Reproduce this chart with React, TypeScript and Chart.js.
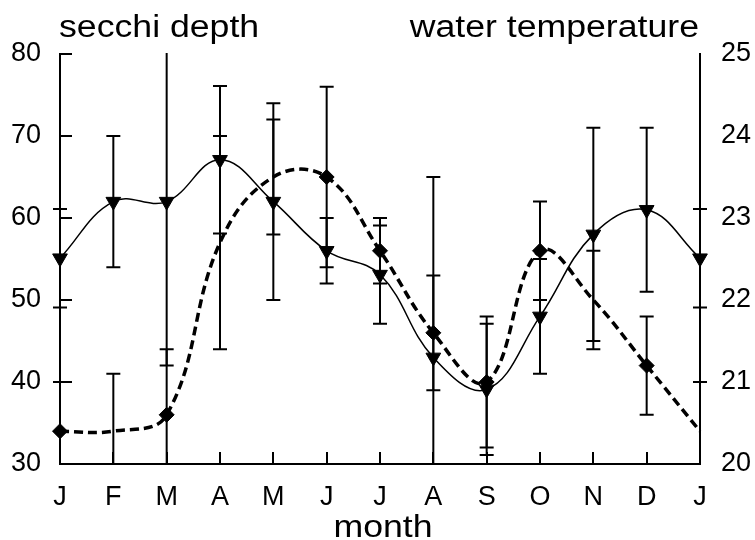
import React, { useEffect, useRef } from "react";
import { Chart, registerables } from "chart.js";

Chart.register(...registerables);

// ---- data ----
const months = ["J", "F", "M", "A", "M", "J", "J", "A", "S", "O", "N", "D", "J"];
const secchiDepth = [55.1, 62.0, 62.0, 67.1, 62.0, 56.0, 53.1, 43.0, 39.1, 48.0, 58.0, 61.0, 55.1];
const secchiError = [6, 8, 20, 9, 12, 4, 6, 22, 8, 7, 13, 10, 6];
const waterTemp = [20.4, 20.4, 20.6, 22.7, 23.5, 23.5, 22.6, 21.6, 21.0, 22.6, 22.0, 21.2, 20.4];
const waterTempError = [0.6, 0.7, 0.8, 1.3, 0.7, 1.1, 0.4, 0.7, 0.8, 0.6, 0.6, 0.6, 0.6];
const waterTempMarked = [true, false, true, false, false, true, true, true, true, true, false, true, false];
const leftTicks = [30, 40, 50, 60, 70, 80];
const rightTicks = [20, 21, 22, 23, 24, 25];
const leftHeader = "secchi depth";
const rightHeader = "water temperature";
const xTitle = "month";

const FONT = "'Liberation Sans', Arial, sans-serif";

const errorBarPlugin = {
  id: "errorBars",
  beforeDatasetsDraw(chart: any) {
    const { ctx, chartArea } = chart;
    ctx.save();
    ctx.beginPath();
    ctx.rect(chartArea.left - 12, chartArea.top - 1, chartArea.right - chartArea.left + 24, chartArea.bottom - chartArea.top + 1);
    ctx.clip();
    ctx.strokeStyle = "#000";
    ctx.lineWidth = 2;
    chart.data.datasets.forEach((ds: any, i: number) => {
      const meta = chart.getDatasetMeta(i);
      const scale = chart.scales[meta.yAxisID];
      meta.data.forEach((pt: any, j: number) => {
        const v = ds.data[j];
        const e = ds.errors[j];
        const x = pt.x;
        const yTop = scale.getPixelForValue(v + e);
        const yBot = scale.getPixelForValue(v - e);
        ctx.beginPath();
        ctx.moveTo(x, yTop);
        ctx.lineTo(x, yBot);
        ctx.moveTo(x - 7, yTop);
        ctx.lineTo(x + 7, yTop);
        ctx.moveTo(x - 7, yBot);
        ctx.lineTo(x + 7, yBot);
        ctx.stroke();
      });
    });
    ctx.restore();
  },
};

const insideTicksPlugin = {
  id: "insideTicks",
  afterDatasetsDraw(chart: any) {
    const { ctx, chartArea, scales } = chart;
    ctx.save();
    ctx.strokeStyle = "#000";
    ctx.lineWidth = 2;
    ctx.beginPath();
    leftTicks.forEach((v) => {
      const y = Math.round(scales.y.getPixelForValue(v));
      ctx.moveTo(chartArea.left, y);
      ctx.lineTo(chartArea.left + 12, y);
    });
    months.forEach((_, i) => {
      const x = Math.round(scales.x.getPixelForValue(i));
      ctx.moveTo(x, chartArea.bottom);
      ctx.lineTo(x, chartArea.bottom - 12);
    });
    ctx.stroke();
    ctx.restore();
  },
};

const headersPlugin = {
  id: "headers",
  afterDraw(chart: any) {
    const { ctx, chartArea } = chart;
    const draw = (text: string, x: number, y: number, align: CanvasTextAlign) => {
      ctx.save();
      ctx.font = `31px ${FONT}`;
      ctx.fillStyle = "#000";
      ctx.textBaseline = "alphabetic";
      ctx.textAlign = align;
      ctx.translate(x, y);
      ctx.scale(1.15, 1);
      ctx.fillText(text, 0, 0);
      ctx.restore();
    };
    draw(leftHeader, chartArea.left - 1, 37, "left");
    draw(rightHeader, chartArea.right - 1, 37, "right");
    draw(xTitle, (chartArea.left + chartArea.right) / 2 + 3, 537, "center");
  },
};

export default function App() {
  const ref = useRef<HTMLCanvasElement>(null);
  useEffect(() => {
    if (!ref.current) return;
    const tickFont = { family: FONT, size: 27 };
    const chart = new Chart(ref.current, {
      type: "line",
      data: {
        labels: months,
        datasets: [
          {
            label: leftHeader,
            data: secchiDepth,
            errors: secchiError,
            yAxisID: "y",
            borderColor: "#000",
            borderWidth: 1.5,
            tension: 0.4,
            fill: false,
            pointStyle: "triangle",
            rotation: 180,
            pointRadius: 8.5,
            pointBorderWidth: 1,
            pointBackgroundColor: "#000",
            pointBorderColor: "#000",
          } as any,
          {
            label: rightHeader,
            data: waterTemp,
            errors: waterTempError,
            yAxisID: "y2",
            borderColor: "#000",
            borderWidth: 3.5,
            borderDash: [9, 5],
            tension: 0.4,
            fill: false,
            pointStyle: "rectRot",
            pointRadius: waterTempMarked.map((m) => (m ? 7.5 : 0)),
            pointBorderWidth: 1,
            pointBackgroundColor: "#000",
            pointBorderColor: "#000",
          } as any,
        ],
      },
      options: {
        responsive: false,
        animation: false,
        events: [],
        layout: { padding: { top: 54, left: 0, right: 0, bottom: 0 } },
        plugins: { legend: { display: false }, tooltip: { enabled: false }, title: { display: false } },
        scales: {
          x: {
            type: "category",
            offset: false,
            grid: { display: false, drawTicks: false },
            border: { display: true, color: "#000", width: 2 },
            ticks: { color: "#000", font: tickFont, padding: 17, maxRotation: 0, autoSkip: false },
            afterFit: (s: any) => {
              s.height = 76;
            },
          },
          y: {
            position: "left",
            min: 30,
            max: 80,
            grid: { display: false, drawTicks: false },
            border: { display: true, color: "#000", width: 2 },
            ticks: { color: "#000", font: tickFont, padding: 19 },
            afterBuildTicks: (s: any) => {
              s.ticks = leftTicks.map((v) => ({ value: v }));
            },
            afterFit: (s: any) => {
              s.width = 60;
            },
          },
          y2: {
            position: "right",
            min: 20,
            max: 25,
            grid: { display: false, drawTicks: false },
            border: { display: true, color: "#000", width: 2 },
            ticks: { color: "#000", font: tickFont, padding: 21 },
            afterBuildTicks: (s: any) => {
              s.ticks = rightTicks.map((v) => ({ value: v }));
            },
            afterFit: (s: any) => {
              s.width = 55;
            },
          },
        },
      } as any,
      plugins: [errorBarPlugin, insideTicksPlugin, headersPlugin],
    });
    return () => chart.destroy();
  }, []);
  return (
    <div style={{ position: "fixed", left: 0, top: 0, width: 755, height: 540, background: "#fff" }}>
      <canvas ref={ref} width={755} height={540} style={{ display: "block", width: 755, height: 540 }} />
    </div>
  );
}
